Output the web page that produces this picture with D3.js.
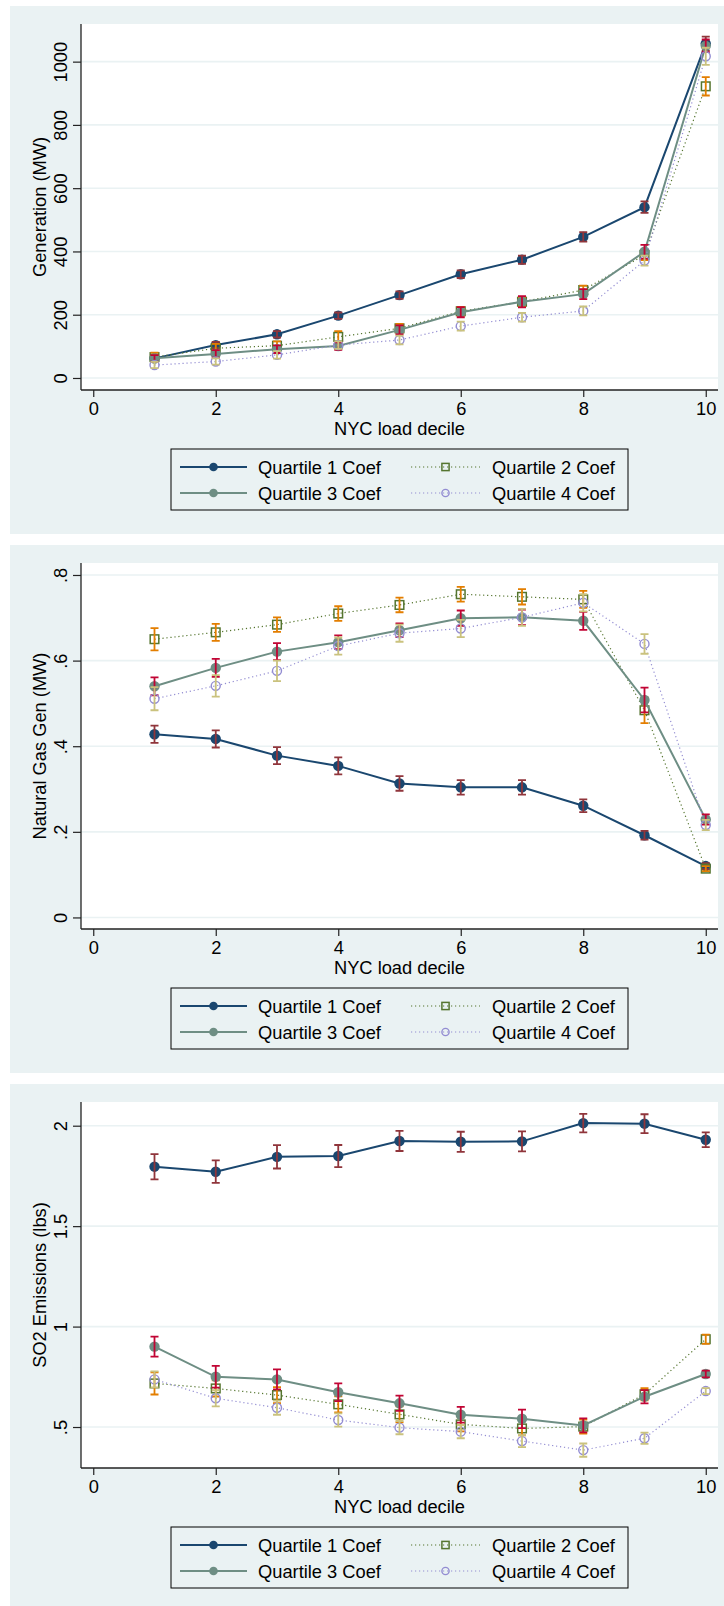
<!DOCTYPE html>
<html>
<head>
<meta charset="utf-8">
<script src="https://cdn.jsdelivr.net/npm/d3@7"></script>
<style>
body { margin: 0; background: #fff; }
svg { display: block; }
text { font-family: "Liberation Sans", Arial, sans-serif; fill: #000; }
</style>
</head>
<body>
<div id="chart"></div>
<script>
// 数据: NYC 负荷十分位
const deciles = [1, 2, 3, 4, 5, 6, 7, 8, 9, 10];
const xTicks = [0, 2, 4, 6, 8, 10];
const seriesNames = ["Quartile 1 Coef", "Quartile 2 Coef", "Quartile 3 Coef", "Quartile 4 Coef"];

// 面板 1: Generation (MW)
const genQ1 = [62, 104, 138, 197, 262, 328, 374, 446, 540, 1057];
const genQ2 = [66, 94, 102, 130, 157, 211, 241, 278, 389, 922];
const genQ3 = [62, 76, 91, 101, 152, 208, 241, 265, 399, 1050];
const genQ4 = [41, 52, 73, 104, 120, 164, 192, 212, 371, 1017];
const genQ1Ci = [8, 10, 10, 10, 12, 12, 13, 15, 18, 22];
const genQ2Ci = [14, 14, 14, 18, 14, 14, 14, 14, 16, 29];
const genQ3Ci = [10, 12, 12, 12, 14, 16, 18, 16, 22, 20];
const genQ4Ci = [10, 10, 12, 12, 14, 14, 14, 14, 16, 27];
const genTicks = [0, 200, 400, 600, 800, 1000];
const genTickLabels = ["0", "200", "400", "600", "800", "1000"];

// 面板 2: Natural Gas Gen (MW)
const gasQ1 = [0.428, 0.417, 0.378, 0.354, 0.313, 0.304, 0.304, 0.261, 0.192, 0.120];
const gasQ2 = [0.650, 0.666, 0.684, 0.710, 0.730, 0.755, 0.749, 0.743, 0.484, 0.114];
const gasQ3 = [0.540, 0.583, 0.621, 0.643, 0.671, 0.699, 0.701, 0.693, 0.508, 0.229];
const gasQ4 = [0.511, 0.541, 0.576, 0.634, 0.664, 0.675, 0.701, 0.735, 0.639, 0.216];
const gasQ1Ci = [0.020, 0.020, 0.020, 0.020, 0.017, 0.017, 0.017, 0.015, 0.010, 0.007];
const gasQ2Ci = [0.026, 0.020, 0.017, 0.017, 0.017, 0.017, 0.018, 0.020, 0.030, 0.006];
const gasQ3Ci = [0.021, 0.021, 0.020, 0.016, 0.016, 0.018, 0.018, 0.021, 0.029, 0.012];
const gasQ4Ci = [0.027, 0.025, 0.024, 0.020, 0.020, 0.020, 0.020, 0.020, 0.023, 0.012];
const gasTicks = [0, 0.2, 0.4, 0.6, 0.8];
const gasTickLabels = ["0", ".2", ".4", ".6", ".8"];

// 面板 3: SO2 Emissions (lbs)
const so2Q1 = [1.796, 1.771, 1.845, 1.849, 1.924, 1.920, 1.922, 2.013, 2.010, 1.930];
const so2Q2 = [0.717, 0.692, 0.659, 0.613, 0.563, 0.513, 0.493, 0.502, 0.663, 0.937];
const so2Q3 = [0.900, 0.750, 0.737, 0.673, 0.618, 0.561, 0.541, 0.508, 0.651, 0.764];
const so2Q4 = [0.737, 0.643, 0.596, 0.535, 0.497, 0.477, 0.430, 0.385, 0.444, 0.679];
const so2Q1Ci = [0.063, 0.056, 0.058, 0.055, 0.050, 0.050, 0.050, 0.046, 0.047, 0.037];
const so2Q2Ci = [0.055, 0.040, 0.040, 0.040, 0.040, 0.035, 0.035, 0.035, 0.030, 0.023];
const so2Q3Ci = [0.050, 0.054, 0.050, 0.044, 0.038, 0.039, 0.046, 0.035, 0.033, 0.017];
const so2Q4Ci = [0.040, 0.040, 0.035, 0.033, 0.033, 0.033, 0.030, 0.033, 0.028, 0.015];
const so2Ticks = [0.5, 1, 1.5, 2];
const so2TickLabels = [".5", "1", "1.5", "2"];

// 各面板配置
const panels = [
    { title: "Generation (MW)", domain: [-38, 1119], ticks: genTicks, labels: genTickLabels,
      values: [genQ1, genQ2, genQ3, genQ4], ci: [genQ1Ci, genQ2Ci, genQ3Ci, genQ4Ci] },
    { title: "Natural Gas Gen (MW)", domain: [-0.027, 0.828], ticks: gasTicks, labels: gasTickLabels,
      values: [gasQ1, gasQ2, gasQ3, gasQ4], ci: [gasQ1Ci, gasQ2Ci, gasQ3Ci, gasQ4Ci] },
    { title: "SO2 Emissions (lbs)", domain: [0.296, 2.118], ticks: so2Ticks, labels: so2TickLabels,
      values: [so2Q1, so2Q2, so2Q3, so2Q4], ci: [so2Q1Ci, so2Q2Ci, so2Q3Ci, so2Q4Ci] }
];

// 系列样式 (Stata s2color)
const styles = [
    { line: "#1a476f", dash: null, lw: 2, marker: "circle", fill: "#1a476f", ciColor: "#90353b" },
    { line: "#55752f", dash: "1.2,2.8", lw: 1.2, marker: "square", fill: "none", ciColor: "#e37e00" },
    { line: "#6e8e84", dash: null, lw: 2, marker: "circle", fill: "#6e8e84", ciColor: "#c10534" },
    { line: "#938dd2", dash: "1.2,2.8", lw: 1.2, marker: "circle", fill: "none", ciColor: "#cac27e" }
];

const W = 724, H = 1606;
const bgColor = "#eaf2f3";
const panelStep = 539;
const plotLeft = 81, plotRight = 718;
const fontSize = 18.3;

const svg = d3.select("#chart").append("svg")
    .attr("width", W)
    .attr("height", H);

svg.append("rect").attr("width", W).attr("height", H).attr("fill", "#fff");

const x = d3.scaleLinear().domain([-0.2, 10.2]).range([plotLeft, plotRight]);

// 画标记
function drawMarker(g, type, cx, cy, size, style) {
    if (type === "circle") {
        g.append("circle")
            .attr("cx", cx).attr("cy", cy).attr("r", size)
            .attr("fill", style.fill)
            .attr("stroke", style.fill === "none" ? style.line : "none")
            .attr("stroke-width", 1.4);
    } else {
        g.append("rect")
            .attr("x", cx - size).attr("y", cy - size)
            .attr("width", size * 2).attr("height", size * 2)
            .attr("fill", "none")
            .attr("stroke", style.line)
            .attr("stroke-width", 1.5);
    }
}

panels.forEach((panel, pi) => {
    const top = 6 + pi * panelStep;
    const plotTop = top + 18, plotBottom = top + 384;

    const g = svg.append("g");

    // 背景
    g.append("rect")
        .attr("x", 10).attr("y", top)
        .attr("width", W - 10).attr("height", 528)
        .attr("fill", bgColor);

    g.append("rect")
        .attr("x", plotLeft).attr("y", plotTop)
        .attr("width", plotRight - plotLeft).attr("height", plotBottom - plotTop)
        .attr("fill", "#fff");

    const y = d3.scaleLinear().domain(panel.domain).range([plotBottom, plotTop]);

    // 网格线
    g.selectAll("line.grid")
        .data(panel.ticks)
        .enter().append("line")
        .attr("class", "grid")
        .attr("x1", plotLeft).attr("x2", plotRight)
        .attr("y1", d => y(d)).attr("y2", d => y(d))
        .attr("stroke", bgColor)
        .attr("stroke-width", 1.6);

    // y 轴
    const yAxis = d3.axisLeft(y)
        .tickValues(panel.ticks)
        .tickFormat((d, i) => panel.labels[i])
        .tickSize(8)
        .tickSizeOuter(0);
    const yg = g.append("g")
        .attr("transform", `translate(${plotLeft},0)`)
        .call(yAxis);
    yg.select(".domain").attr("d", `M0,${plotTop}V${plotBottom}`).attr("stroke", "#222").attr("stroke-width", 1.3);
    yg.selectAll(".tick line").attr("stroke", "#222").attr("stroke-width", 1.2);
    yg.selectAll(".tick text")
        .attr("x", null).attr("dy", null)
        .attr("transform", "translate(-14,0) rotate(-90)")
        .attr("text-anchor", "middle")
        .attr("font-size", fontSize)
        .attr("font-family", "Liberation Sans, Arial, sans-serif")
        .attr("fill", "#000");

    // x 轴
    const xAxis = d3.axisBottom(x)
        .tickValues(xTicks)
        .tickFormat(d3.format("d"))
        .tickSize(7)
        .tickSizeOuter(0);
    const xg = g.append("g")
        .attr("transform", `translate(0,${plotBottom})`)
        .call(xAxis);
    xg.select(".domain").attr("d", `M${plotLeft},0H${plotRight}`).attr("stroke", "#222").attr("stroke-width", 1.3);
    xg.selectAll(".tick line").attr("stroke", "#222").attr("stroke-width", 1.2);
    xg.selectAll(".tick text")
        .attr("y", 25).attr("dy", null)
        .attr("font-size", fontSize)
        .attr("font-family", "Liberation Sans, Arial, sans-serif")
        .attr("fill", "#000");

    // 轴标题
    g.append("text")
        .attr("x", (plotLeft + plotRight) / 2)
        .attr("y", top + 429)
        .attr("text-anchor", "middle")
        .attr("font-size", fontSize)
        .text("NYC load decile");

    g.append("text")
        .attr("transform", `translate(46,${(plotTop + plotBottom) / 2}) rotate(-90)`)
        .attr("text-anchor", "middle")
        .attr("font-size", fontSize)
        .text(panel.title);

    // 系列
    panel.values.forEach((vals, si) => {
        const st = styles[si];
        const sg = g.append("g").attr("class", `series-${si}`);

        sg.append("path")
            .datum(vals)
            .attr("fill", "none")
            .attr("stroke", st.line)
            .attr("stroke-width", st.lw)
            .attr("stroke-dasharray", st.dash)
            .attr("d", d3.line().x((d, i) => x(deciles[i])).y(d => y(d)));

        vals.forEach((v, i) => {
            drawMarker(sg, st.marker, x(deciles[i]), y(v), st.marker === "square" ? 4.3 : (st.fill === "none" ? 4.5 : 5.2), st);
        });

        // 置信区间
        vals.forEach((v, i) => {
            const cx = x(deciles[i]);
            const lo = y(v - panel.ci[si][i]), hi = y(v + panel.ci[si][i]);
            sg.append("path")
                .attr("d", `M${cx},${lo}V${hi}M${cx - 4},${lo}H${cx + 4}M${cx - 4},${hi}H${cx + 4}`)
                .attr("fill", "none")
                .attr("stroke", st.ciColor)
                .attr("stroke-width", 1.8);
        });
    });

    // 图例
    const legTop = top + 443;
    const lg = g.append("g");
    lg.append("rect")
        .attr("x", 171).attr("y", legTop)
        .attr("width", 457).attr("height", 61)
        .attr("fill", bgColor)
        .attr("stroke", "#000")
        .attr("stroke-width", 1);

    const legendPos = [
        { x1: 180, x2: 247, tx: 258, row: 0 },
        { x1: 411, x2: 480, tx: 492, row: 0 },
        { x1: 180, x2: 247, tx: 258, row: 1 },
        { x1: 411, x2: 480, tx: 492, row: 1 }
    ];
    seriesNames.forEach((name, si) => {
        const st = styles[si];
        const p = legendPos[si];
        const cy = legTop + 18 + p.row * 26;
        lg.append("line")
            .attr("x1", p.x1).attr("x2", p.x2)
            .attr("y1", cy).attr("y2", cy)
            .attr("stroke", st.line)
            .attr("stroke-width", st.lw)
            .attr("stroke-dasharray", st.dash);
        drawMarker(lg, st.marker, (p.x1 + p.x2) / 2, cy, st.marker === "square" ? 3.6 : (st.fill === "none" ? 3.6 : 4.3), st);
        lg.append("text")
            .attr("x", p.tx)
            .attr("y", cy + 6.5)
            .attr("font-size", fontSize)
            .text(name);
    });
});
</script>
</body>
</html>
